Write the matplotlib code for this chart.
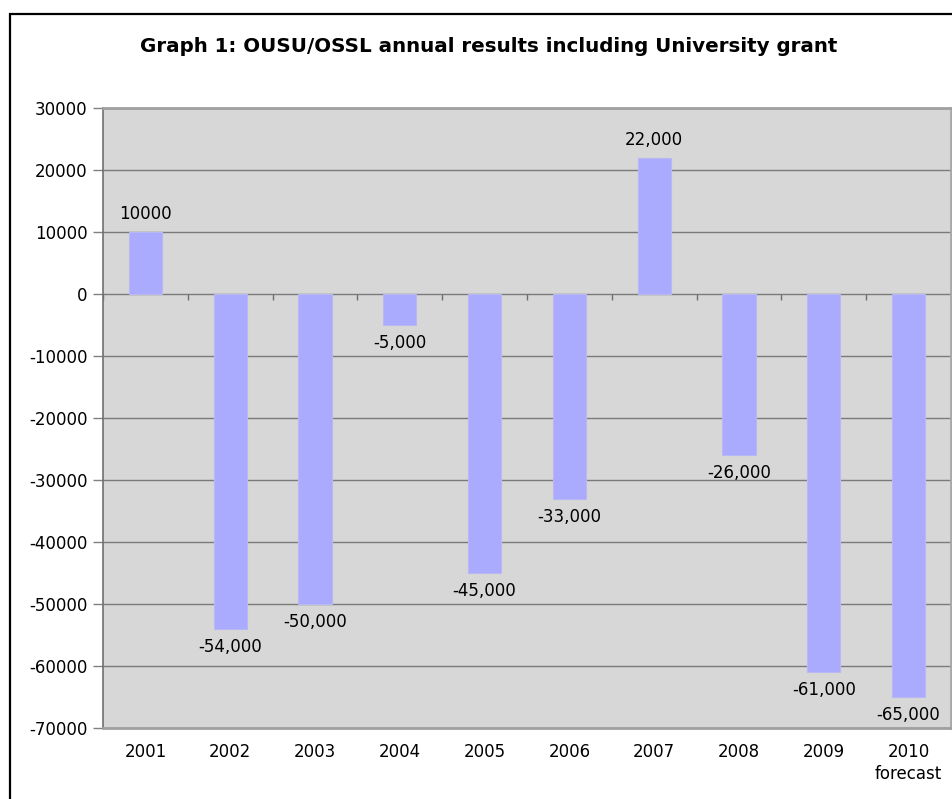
# Graph 1: OUSU/OSSL annual results including University grant
import numpy as np
import matplotlib
matplotlib.use('Agg')
import matplotlib.pyplot as plt
from matplotlib.patches import Rectangle

# Data
years = ['2001', '2002', '2003', '2004', '2005', '2006', '2007', '2008', '2009', '2010\nforecast']
results = [10000, -54000, -50000, -5000, -45000, -33000, 22000, -26000, -61000, -65000]
value_labels = ['10000', '-54,000', '-50,000', '-5,000', '-45,000', '-33,000',
                '22,000', '-26,000', '-61,000', '-65,000']
y_ticks = list(range(-70000, 30001, 10000))

plt.rcParams['font.family'] = ['DejaVu Sans']

fig = plt.figure(figsize=(9.53, 7.99), dpi=100)
ax = fig.add_axes([103/953, 1 - 728/799, 848/953, 620/799])

# plot area
ax.set_facecolor('#d7d7d7')
x = np.arange(len(years))
ax.bar(x, results, width=0.39, color='#aaaaff', edgecolor='#b8b8f4', linewidth=0.8, zorder=3)

ax.set_xlim(-0.5, len(years) - 0.5)
ax.set_ylim(min(y_ticks), max(y_ticks))
ax.set_yticks(y_ticks)
ax.set_yticklabels([str(t) for t in y_ticks])
ax.yaxis.grid(True, color='#7a7a7a', linewidth=1.0, zorder=1)
ax.set_axisbelow(True)

ax.set_xticks(x)
ax.set_xticklabels(years, linespacing=1.3)
ax.tick_params(axis='x', length=0, pad=11, labelsize=12)
ax.tick_params(axis='y', length=7, width=1, color='#808080', pad=4, labelsize=12)

# small category ticks on the zero line
ax.vlines(np.arange(-0.5, len(years)), -900, 0, color='#707070', linewidth=1, zorder=2)

ax.spines['left'].set_color('#707070')
ax.spines['left'].set_linewidth(1.2)
ax.spines['top'].set_color('#a0a0a0')
ax.spines['top'].set_linewidth(2)
ax.spines['right'].set_color('#a8a8a8')
ax.spines['right'].set_linewidth(2)
ax.spines['bottom'].set_color('#a0a0a0')
ax.spines['bottom'].set_linewidth(2)

# value labels
for xi, v, lab in zip(x, results, value_labels):
    off = 13 if v > 0 else -13
    ax.annotate(lab, (xi, v), xytext=(0, off), textcoords='offset points',
                ha='center', va='center', fontsize=12, zorder=4)

fig.text(489/953, 1 - 46/799, 'Graph 1: OUSU/OSSL annual results including University grant',
         ha='center', va='center', fontsize=14.3, fontweight='bold')

# outer frame
fig.patches.append(Rectangle((10/953, -0.1), 1.0, 1 - 14/799 + 0.1,
                             transform=fig.transFigure, fill=False,
                             edgecolor='black', linewidth=1.6))

fig.savefig('out.png', dpi=100)
